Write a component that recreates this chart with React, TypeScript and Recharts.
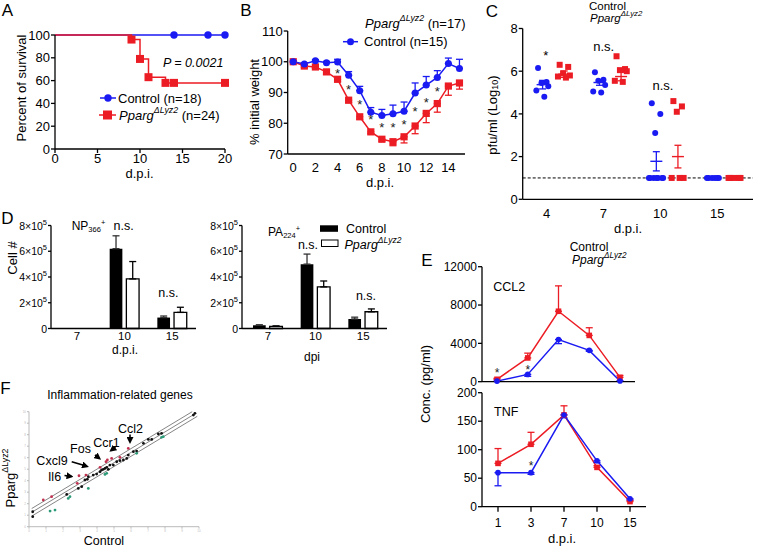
import React from "react";
import {
  LineChart,
  Line,
  XAxis,
  YAxis,
  ErrorBar,
  ScatterChart,
  Scatter,
  ReferenceLine,
  BarChart,
  Bar,
} from "recharts";

const FONT = '"Liberation Sans", Arial, Helvetica, sans-serif';
const BLUE = "#1a1af2";
const RED = "#ec1c24";
const AX = { stroke: "#000", strokeWidth: 1.3 };

// A - survival
const survCtrlDays = [0, 14, 18, 20];
const survCtrl = [100, 100, 100, 100];
const survKoDays = [0, 9, 10, 11, 13, 14, 20];
const survKo = [100, 96, 79, 63, 58, 58, 58];

// B - weight loss
const wDays = [0, 1, 2, 3, 4, 5, 6, 7, 8, 9, 10, 11, 12, 13, 14, 15];
const wCtrl = [100, 99.3, 100.3, 99.7, 99.9, 95.6, 90.6, 83.6, 82.5, 83.1, 83.9, 89.8, 92.4, 94.9, 99.4, 97.8];
const wCtrlSem = [0.4, 0.4, 0.4, 0.4, 0.9, 1.2, 1.4, 1.5, 2.0, 2.8, 3.0, 3.3, 2.8, 2.2, 1.8, 3.0];
const wKo = [100, 98.6, 98.3, 96.7, 94.3, 87.5, 82.1, 77.2, 74.8, 74.0, 75.6, 79.1, 83.2, 86.4, 92.1, 93.1];
const wKoSem = [0.3, 0.5, 0.5, 0.6, 0.8, 0.8, 0.8, 0.6, 0.6, 1.3, 2.0, 2.5, 3.0, 2.8, 3.0, 2.0];
const wStar = [null, null, null, null, 97.2, 92.1, 87.0, 82.3, 79.7, 79.7, 80.7, 84.8, 87.7, 91.3, null, null];

// C - viral titre
const cDays = ["4", "7", "10", "15"];
const cCtrl4 = [6.15, 5.5, 5.45, 5.3, 5.1, 4.8];
const cCtrl7 = [5.95, 5.6, 5.55, 5.35, 5.05, 5.0];
const cCtrl10 = [4.5, 4.0, 3.1, 1, 1, 1, 1, 1, 1, 1];
const cCtrl15 = [1, 1, 1, 1, 1, 1];
const cKo4 = [6.3, 6.2, 5.9, 5.8, 5.75, 5.7];
const cKo7 = [6.7, 6.1, 6.05, 6.0, 5.55, 5.5];
const cKo10 = [4.6, 4.35, 4.1, 1, 1, 1];
const cKo15 = [1, 1, 1, 1, 1];
const cCtrlMean = [5.37, 5.47, 1.78, 1];
const cCtrlSem = [0.2, 0.13, 0.45, 0];
const cKoMean = [5.86, 5.75, 2.0, 1];
const cKoSem = [0.15, 0.2, 0.53, 0];

// D - tetramer+ cells
const dDays = ["7", "10", "15"];
const npCtrl = [0, 620000, 85000];
const npCtrlSem = [null, 100000, 12000];
const npKo = [0, 385000, 125000];
const npKoSem = [null, 135000, 40000];
const paCtrl = [25000, 500000, 74000];
const paCtrlSem = [4000, 78000, 14000];
const paKo = [17000, 323000, 130000];
const paKoSem = [3000, 46000, 22000];

// E - cytokines
const eDays = ["1", "3", "7", "10", "15"];
const ccl2Ctrl = [60, 760, 4400, 3270, 80];
const ccl2CtrlSem = [30, 200, 430, 100, 30];
const ccl2Ko = [250, 2480, 7350, 4830, 450];
const ccl2KoSem = [100, 500, 2650, 800, 200];
const ccl2Star = [1210, 1550, null, null, null];
const tnfCtrl = [59.7, 59.7, 161, 80.5, 14];
const tnfCtrlSem = [23, 3, 5, 3, 2];
const tnfKo = [76, 109.5, 161, 69, 9];
const tnfKoSem = [26, 21, 16, 3, 2];
const tnfStar = [null, 77, null, null, null];

// F - gene scatter (log expression)
const fMidX = [0.22, 0.22, 2.22, 2.9, 3.1, 3.29, 3.43, 3.49, 3.78, 3.98, 4.18, 4.27, 4.37, 4.47, 4.57, 4.67, 4.76, 4.96, 5.16, 5.35, 5.55, 5.75, 5.84, 6.14, 6.33, 6.73, 7.02, 7.22, 7.61, 7.8, 9.67, 9.76];
const fMidY = [1.3, 0.87, 2.81, 3.33, 3.48, 4.06, 4.12, 4.35, 4.49, 4.58, 4.78, 4.93, 4.99, 5.07, 5.16, 4.99, 5.36, 5.36, 5.65, 5.74, 5.8, 5.94, 6.23, 6.52, 6.58, 7.25, 7.59, 7.59, 8.06, 8.12, 9.71, 9.86];
const fUpX = [0.84, 1.33, 2.84, 2.94, 3.35, 4.18, 4.53, 4.61, 4.86, 5.35, 5.84];
const fUpY = [2.32, 2.61, 3.77, 4.43, 4.49, 5.16, 5.65, 5.8, 5.94, 6.03, 6.81];
const fDownX = [1.24, 1.53, 2.31, 2.41, 3.49, 4.47, 4.57, 6.33, 7.8, 7.9];
const fDownY = [1.36, 1.45, 2.46, 2.61, 3.33, 4.55, 4.64, 6.38, 7.77, 7.83];

// jitter pattern for the dot plot in C
const JIT = [-0.08, 0.07, -0.02, 0.1, -0.11, 0.03, -0.05, 0.12, 0.0, -0.13];

const tickStyle = (s: number) => ({ fill: "#000", fontSize: s });

const circleDot = (color: string, r: number, skipFirst = false) => (p: any) =>
  skipFirst && p.index === 0 ? (
    <g key={`c${p.index}`} />
  ) : (
    <circle key={`c${p.index}`} cx={p.cx} cy={p.cy} r={r} fill={color} />
  );

const squareDot = (color: string, h: number, skipFirst = false) => (p: any) =>
  skipFirst && p.index === 0 ? (
    <g key={`s${p.index}`} />
  ) : (
    <rect key={`s${p.index}`} x={p.cx - h} y={p.cy - h} width={2 * h} height={2 * h} fill={color} />
  );

const starDot = (s: number) => (p: any) =>
  p.cy == null || p.value == null ? (
    <g key={`t${p.index}`} />
  ) : (
    <text key={`t${p.index}`} x={p.cx} y={p.cy + s * 0.58} fontSize={s} textAnchor="middle" fill="#222">
      *
    </text>
  );

function PanelA() {
  const ctrl = survCtrlDays.map((d, i) => ({ day: d, v: survCtrl[i] }));
  const ko = survKoDays.map((d, i) => ({ day: d, v: survKo[i] }));
  return (
    <div style={{ position: "absolute", left: 0, top: 0 }}>
      <LineChart width={240} height={190} margin={{ top: 35, right: 15, bottom: 11, left: 0 }}>
        <XAxis dataKey="day" type="number" domain={[0, 20]} ticks={[0, 5, 10, 15, 20]} height={30}
          axisLine={AX} tickLine={AX} tickSize={4} tickMargin={1} tick={tickStyle(13)} />
        <YAxis type="number" domain={[0, 100]} ticks={[0, 20, 40, 60, 80, 100]} width={55}
          axisLine={AX} tickLine={AX} tickSize={4} tickMargin={1} tick={tickStyle(13)} />
        <Line data={ctrl} dataKey="v" stroke={BLUE} strokeWidth={1.5} dot={circleDot(BLUE, 3.7, true)} isAnimationActive={false} />
        <Line data={ko} dataKey="v" type="stepAfter" stroke={RED} strokeWidth={1.5} dot={squareDot(RED, 4, true)} isAnimationActive={false} />
      </LineChart>
    </div>
  );
}

function PanelB() {
  const rows = wDays.map((d, i) => ({
    day: d,
    ctrl: wCtrl[i],
    ctrlErr: [0, wCtrlSem[i]],
    ko: wKo[i],
    koErr: [wKoSem[i], 0],
    star: wStar[i],
  }));
  return (
    <div style={{ position: "absolute", left: 240, top: 0 }}>
      <LineChart width={230} height={195} data={rows} margin={{ top: 31, right: 5, bottom: 11, left: 0 }}>
        <XAxis dataKey="day" type="number" domain={[-0.5, 15.5]} ticks={[0, 2, 4, 6, 8, 10, 12, 14]} height={30}
          axisLine={AX} tickLine={false} tickSize={4} tickMargin={5} tick={tickStyle(13)} />
        <YAxis type="number" domain={[70, 110]} ticks={[70, 80, 90, 100, 110]} width={47.7}
          axisLine={AX} tickLine={AX} tickSize={4} tickMargin={1} tick={tickStyle(13)} />
        <Line dataKey="ko" stroke={RED} strokeWidth={1.5} dot={squareDot(RED, 3.6)} isAnimationActive={false}>
          <ErrorBar dataKey="koErr" direction="y" width={3.5} stroke={RED} strokeWidth={1.3} />
        </Line>
        <Line dataKey="ctrl" stroke={BLUE} strokeWidth={1.5} dot={circleDot(BLUE, 3.5)} isAnimationActive={false}>
          <ErrorBar dataKey="ctrlErr" direction="y" width={3.5} stroke={BLUE} strokeWidth={1.3} />
        </Line>
        <Line dataKey="star" stroke="none" dot={starDot(13)} isAnimationActive={false} />
      </LineChart>
    </div>
  );
}

function PanelC() {
  const ctrlGroups = [cCtrl4, cCtrl7, cCtrl10, cCtrl15];
  const koGroups = [cKo4, cKo7, cKo10, cKo15];
  const ctrlPts = ctrlGroups.flatMap((g, i) => g.map((v, k) => ({ x: i + 0.35 + JIT[k], y: v })));
  const koPts = koGroups.flatMap((g, i) => g.map((v, k) => ({ x: i + 0.73 + JIT[k], y: v })));
  const ctrlMean = cCtrlMean.map((m, i) => ({ x: i + 0.35, y: m, sem: cCtrlSem[i] }));
  const koMean = cKoMean.map((m, i) => ({ x: i + 0.73, y: m, sem: cKoSem[i] }));
  const meanShape = (color: string) => (p: any) => (
    <line x1={p.cx - 6} x2={p.cx + 6} y1={p.cy} y2={p.cy} stroke={color} strokeWidth={1.4} />
  );
  return (
    <div style={{ position: "absolute", left: 470, top: 0 }}>
      <ScatterChart width={290} height={240} margin={{ top: 28.5, right: 7, bottom: 15.7, left: 0 }}>
        <XAxis dataKey="x" type="number" domain={[0, 4.05]} ticks={[0.42, 1.42, 2.42, 3.42]}
          tickFormatter={(v: number, i: number) => cDays[i]} height={25}
          axisLine={AX} tickLine={false} tickSize={6} tickMargin={3} tick={tickStyle(13)} />
        <YAxis dataKey="y" type="number" domain={[0, 8]} ticks={[0, 2, 4, 6, 8]} width={52.7}
          axisLine={AX} tickLine={AX} tickSize={4} tickMargin={1} tick={tickStyle(13)} />
        <ReferenceLine y={1} stroke="#000" strokeDasharray="3 2" strokeWidth={1} />
        <Scatter data={ctrlPts} fill={BLUE} shape={circleDot(BLUE, 3)} isAnimationActive={false} />
        <Scatter data={koPts} fill={RED} shape={squareDot(RED, 3)} isAnimationActive={false} />
        <Scatter data={ctrlMean} fill={BLUE} shape={meanShape(BLUE)} isAnimationActive={false}>
          <ErrorBar dataKey="sem" direction="y" width={3.5} stroke={BLUE} strokeWidth={1.3} />
        </Scatter>
        <Scatter data={koMean} fill={RED} shape={meanShape(RED)} isAnimationActive={false}>
          <ErrorBar dataKey="sem" direction="y" width={3.5} stroke={RED} strokeWidth={1.3} />
        </Scatter>
      </ScatterChart>
    </div>
  );
}

const PowTick = (p: any) => {
  const v = p.payload.value;
  return (
    <text x={p.x} y={p.y} textAnchor="end" dominantBaseline="central" fontSize={10.5} fill="#000">
      {v === 0 ? "0" : `${v / 100000}×10`}
      {v === 0 ? null : (
        <tspan fontSize={7.5} dy={-4}>
          5
        </tspan>
      )}
    </text>
  );
};

function CellBars({ left, yw, ctrl, ctrlSem, ko, koSem }: any) {
  const rows = dDays.map((d, i) => ({
    day: d,
    ctrl: ctrl[i],
    ko: ko[i],
    ctrlErr: ctrlSem[i] == null ? null : [0, ctrlSem[i]],
    koErr: koSem[i] == null ? null : [0, koSem[i]],
  }));
  return (
    <div style={{ position: "absolute", left, top: 205 }}>
      <BarChart width={yw + 145 + 10} height={150} data={rows} barSize={12.7} barGap={4}
        margin={{ top: 20.5, right: 10, bottom: 6.5, left: 0 }}>
        <XAxis dataKey="day" height={20} padding={{ left: 2, right: 0 }} axisLine={AX} tickLine={false}
          tickSize={3} tickMargin={0} tick={tickStyle(11.5)} />
        <YAxis type="number" domain={[0, 800000]} ticks={[0, 200000, 400000, 600000, 800000]} width={yw}
          axisLine={AX} tickLine={AX} tickSize={3} tickMargin={1} tick={PowTick} />
        <Bar dataKey="ctrl" fill="#000" isAnimationActive={false}>
          <ErrorBar dataKey="ctrlErr" direction="y" width={3.5} stroke="#333" strokeWidth={1.3} />
        </Bar>
        <Bar dataKey="ko" fill="#fff" stroke="#000" strokeWidth={1.3} isAnimationActive={false}>
          <ErrorBar dataKey="koErr" direction="y" width={3.5} stroke="#000" strokeWidth={1.3} />
        </Bar>
      </BarChart>
    </div>
  );
}

function Cytokine({ top, height, mTop, mBottom, xh, width, pad, yDomain, yTicks, ctrl, ctrlSem, ko, koSem, star, showTicks }: any) {
  const rows = eDays.map((d, i) => ({
    day: d,
    ctrl: ctrl[i],
    ctrlErr: [ctrlSem[i], 0],
    ko: ko[i],
    koErr: [0, koSem[i]],
    star: star[i],
  }));
  return (
    <div style={{ position: "absolute", left: 420, top }}>
      <LineChart width={width} height={height} data={rows} margin={{ top: mTop, right: 5, bottom: mBottom, left: 0 }}>
        <XAxis dataKey="day" height={xh} padding={{ left: pad, right: pad }} axisLine={AX} tickLine={AX}
          tickSize={5} tickMargin={7} tick={showTicks ? tickStyle(12) : false} />
        <YAxis type="number" domain={yDomain} ticks={yTicks} width={62} axisLine={AX} tickLine={AX}
          tickSize={4} tickMargin={1} tick={tickStyle(12)} />
        <Line dataKey="ko" stroke={RED} strokeWidth={1.5} dot={squareDot(RED, 2.8)} isAnimationActive={false}>
          <ErrorBar dataKey="koErr" direction="y" width={3.5} stroke={RED} strokeWidth={1.3} />
        </Line>
        <Line dataKey="ctrl" stroke={BLUE} strokeWidth={1.5} dot={circleDot(BLUE, 2.8)} isAnimationActive={false}>
          <ErrorBar dataKey="ctrlErr" direction="y" width={3.5} stroke={BLUE} strokeWidth={1.3} />
        </Line>
        <Line dataKey="star" stroke="none" dot={starDot(12)} isAnimationActive={false} />
      </LineChart>
    </div>
  );
}

function PanelF() {
  const mid = fMidX.map((x, i) => ({ x, y: fMidY[i] }));
  const up = fUpX.map((x, i) => ({ x, y: fUpY[i] }));
  const down = fDownX.map((x, i) => ({ x, y: fDownY[i] }));
  const grey = { stroke: "#bbb", strokeWidth: 1 };
  const ticks = [0, 1, 2, 3, 4, 5, 6, 7, 8, 9, 10];
  return (
    <div style={{ position: "absolute", left: 0, top: 400 }}>
      <ScatterChart width={210} height={140} margin={{ top: 11.7, right: 11, bottom: 5.3, left: 0 }}>
        <XAxis dataKey="x" type="number" domain={[0, 10]} ticks={ticks} height={8} axisLine={grey} tickLine={grey}
          tickSize={2} tickMargin={1} tick={{ fill: "#bbb", fontSize: 3 }} />
        <YAxis dataKey="y" type="number" domain={[0, 10]} ticks={ticks} width={29} axisLine={grey} tickLine={grey}
          tickSize={2} tickMargin={1} tick={{ fill: "#bbb", fontSize: 3 }} />
        <ReferenceLine segment={[{ x: 0.16, y: 1.58 }, { x: 9.6, y: 10 }]} stroke="#666" strokeWidth={0.8} ifOverflow="visible" />
        <ReferenceLine segment={[{ x: 0.16, y: 1.25 }, { x: 9.8, y: 9.85 }]} stroke="#666" strokeWidth={0.8} ifOverflow="visible" />
        <ReferenceLine segment={[{ x: 0.16, y: 0.92 }, { x: 9.9, y: 9.6 }]} stroke="#666" strokeWidth={0.8} ifOverflow="visible" />
        <Scatter data={mid} shape={circleDot("#111", 1.4)} isAnimationActive={false} />
        <Scatter data={up} shape={circleDot("#c2304f", 1.4)} isAnimationActive={false} />
        <Scatter data={down} shape={circleDot("#2c9a78", 1.4)} isAnimationActive={false} />
      </ScatterChart>
    </div>
  );
}

const Ko = ({ x, y, s = 13, suffix = "", italic = true, anchor = "start" }: any) => {
  const st = italic ? "italic" : "normal";
  const up = s * 0.4;
  return (
    <text x={x} y={y} fontSize={s} textAnchor={anchor} dominantBaseline="central">
      <tspan fontStyle={st}>Pparg</tspan>
      <tspan fontStyle={st} fontSize={s * 0.68} dy={-up}>ΔLyz2</tspan>
      {suffix ? <tspan dy={up}>{suffix}</tspan> : null}
    </text>
  );
};

const T = ({ x, y, s = 13, a = "start", it = false, children }: any) => (
  <text x={x} y={y} fontSize={s} textAnchor={a} dominantBaseline="central" fontStyle={it ? "italic" : "normal"}>
    {children}
  </text>
);

const VT = ({ x, y, s = 13, children }: any) => (
  <g transform={`translate(${x},${y}) rotate(-90)`}>
    <text x={0} y={0} fontSize={s} textAnchor="middle" dominantBaseline="central">
      {children}
    </text>
  </g>
);

const Star = ({ x, y, s = 13 }: any) => (
  <text x={x} y={y + s * 0.58} fontSize={s} textAnchor="middle">
    *
  </text>
);

const Arrow = ({ x1, y1, x2, y2 }: any) => (
  <line x1={x1} y1={y1} x2={x2} y2={y2} stroke="#000" strokeWidth={1.6} markerEnd="url(#ah)" />
);

function Overlay() {
  return (
    <svg width={760} height={548} style={{ position: "absolute", left: 0, top: 0, pointerEvents: "none" }}>
      <defs>
        <marker id="ah" markerWidth="7" markerHeight="7" refX="5" refY="3.5" orient="auto" markerUnits="userSpaceOnUse">
          <path d="M0,0 L7,3.5 L0,7 z" fill="#000" />
        </marker>
      </defs>

      {/* A */}
      <T x={7.5} y={10} s={17} a="middle">A</T>
      <VT x={21.7} y={88}>Percent of survival</VT>
      <T x={139.5} y={173} a="middle">d.p.i.</T>
      <T x={163} y={63} s={12.5} it>P = 0.0021</T>
      <line x1={100} y1={98} x2={116} y2={98} stroke={BLUE} strokeWidth={1.5} />
      <circle cx={108} cy={98} r={3.7} fill={BLUE} />
      <T x={118} y={98}>Control (n=18)</T>
      <line x1={99} y1={115} x2={116} y2={115} stroke={RED} strokeWidth={1.5} />
      <rect x={103} y={110.5} width={9} height={9} fill={RED} />
      <Ko x={119} y={115} suffix=" (n=24)" />

      {/* B */}
      <T x={246} y={10.5} s={17} a="middle">B</T>
      <VT x={254} y={102}>% initial weight</VT>
      <T x={380} y={182} a="middle">d.p.i.</T>
      <Ko x={365} y={22.7} suffix=" (n=17)" />
      <line x1={343} y1={41.7} x2={358} y2={41.7} stroke={BLUE} strokeWidth={1.5} />
      <circle cx={350.5} cy={41.7} r={3.5} fill={BLUE} />
      <T x={364} y={41.7}>Control (n=15)</T>

      {/* C */}
      <T x={492} y={11} s={17} a="middle">C</T>
      <T x={607.5} y={5.5} s={11.5} a="middle">Control</T>
      <Ko x={590} y={17.5} s={11.5} />
      <g transform="translate(492,115) rotate(-90)">
        <text x={0} y={0} fontSize={13} textAnchor="middle" dominantBaseline="central">
          pfu/ml (Log<tspan fontSize={9} dy={3}>10</tspan>
          <tspan dy={-3}>)</tspan>
        </text>
      </g>
      <T x={628} y={228} a="middle">d.p.i.</T>
      <Star x={545.7} y={52.7} />
      <T x={603.7} y={46.7} a="middle">n.s.</T>
      <T x={663} y={85} a="middle">n.s.</T>

      {/* D */}
      <T x={7.5} y={218} s={17} a="middle">D</T>
      <VT x={12.5} y={258}>Cell #</VT>
      <text x={71.7} y={226} fontSize={12} dominantBaseline="central">
        NP<tspan fontSize={7.5} dy={3}>366</tspan>
        <tspan fontSize={7.5} dy={-7}>+</tspan>
      </text>
      <T x={123.7} y={226} s={12.5} a="middle">n.s.</T>
      <T x={168.3} y={292.7} s={12.5} a="middle">n.s.</T>
      <T x={125} y={350} s={12} a="middle">d.p.i.</T>
      <text x={268} y={231.7} fontSize={12} dominantBaseline="central">
        PA<tspan fontSize={7.5} dy={3}>224</tspan>
        <tspan fontSize={7.5} dy={-7}>+</tspan>
      </text>
      <T x={308} y={245} s={12.5} a="middle">n.s.</T>
      <T x={366} y={296} s={12.5} a="middle">n.s.</T>
      <T x={312} y={357} s={12} a="middle">dpi</T>
      <rect x={320} y={225.3} width={18} height={6.5} fill="#000" />
      <T x={346} y={228.5} s={12.5}>Control</T>
      <rect x={321.5} y={240} width={16.5} height={6.5} fill="#fff" stroke="#000" strokeWidth={1} />
      <Ko x={344.5} y={244.5} s={12.5} />

      {/* E */}
      <T x={427} y={260.5} s={17} a="middle">E</T>
      <T x={589} y={247.3} s={12} a="middle">Control</T>
      <Ko x={572} y={260} s={12} />
      <T x={493.3} y={287} s={12.5}>CCL2</T>
      <T x={494} y={411.7} s={12.5}>TNF</T>
      <VT x={425} y={384}>Conc. (pg/ml)</VT>
      <T x={562} y={538.3} a="middle">d.p.i.</T>

      {/* F */}
      <T x={5.5} y={388} s={17} a="middle">F</T>
      <T x={120} y={395} s={12} a="middle">Inflammation-related genes</T>
      <g transform="translate(10,478) rotate(-90)">
        <Ko x={0} y={0} s={13} italic={false} anchor="middle" />
      </g>
      <T x={104} y={540.5} s={12.5} a="middle">Control</T>
      <T x={130.5} y={429} s={12.5} a="middle">Ccl2</T>
      <Arrow x1={130} y1={434.5} x2={130} y2={442} />
      <T x={106.5} y={443} s={12.5} a="middle">Ccr1</T>
      <Arrow x1={115.5} y1={447} x2={111} y2={450.5} />
      <T x={80.5} y={449} s={12.5} a="middle">Fos</T>
      <Arrow x1={95} y1={455} x2={99.5} y2={458.5} />
      <T x={52} y={461} s={12.5} a="middle">Cxcl9</T>
      <Arrow x1={71.7} y1={461.7} x2={87} y2={466.3} />
      <T x={54.5} y={476.7} s={12.5} a="middle">Il6</T>
      <Arrow x1={64.5} y1={475.5} x2={71.5} y2={476.4} />
    </svg>
  );
}

export default function App() {
  return (
    <div style={{ position: "absolute", left: 0, top: 0, width: 760, height: 548, background: "#fff", fontFamily: FONT, overflow: "hidden" }}>
      <PanelA />
      <PanelB />
      <PanelC />
      <CellBars left={0} yw={51} ctrl={npCtrl} ctrlSem={npCtrlSem} ko={npKo} koSem={npKoSem} />
      <CellBars left={190.5} yw={51} ctrl={paCtrl} ctrlSem={paCtrlSem} ko={paKo} koSem={paKoSem} />
      <Cytokine top={250} width={220} height={145} mTop={16.7} mBottom={5.3} xh={8} pad={15}
        yDomain={[0, 12000]} yTicks={[0, 4000, 8000, 12000]} ctrl={ccl2Ctrl} ctrlSem={ccl2CtrlSem}
        ko={ccl2Ko} koSem={ccl2KoSem} star={ccl2Star} showTicks={false} />
      <Cytokine top={380} width={231} height={155} mTop={12.7} mBottom={3.3} xh={25} pad={16}
        yDomain={[0, 200]} yTicks={[0, 50, 100, 150, 200]} ctrl={tnfCtrl} ctrlSem={tnfCtrlSem}
        ko={tnfKo} koSem={tnfKoSem} star={tnfStar} showTicks={true} />
      <PanelF />
      <Overlay />
    </div>
  );
}
